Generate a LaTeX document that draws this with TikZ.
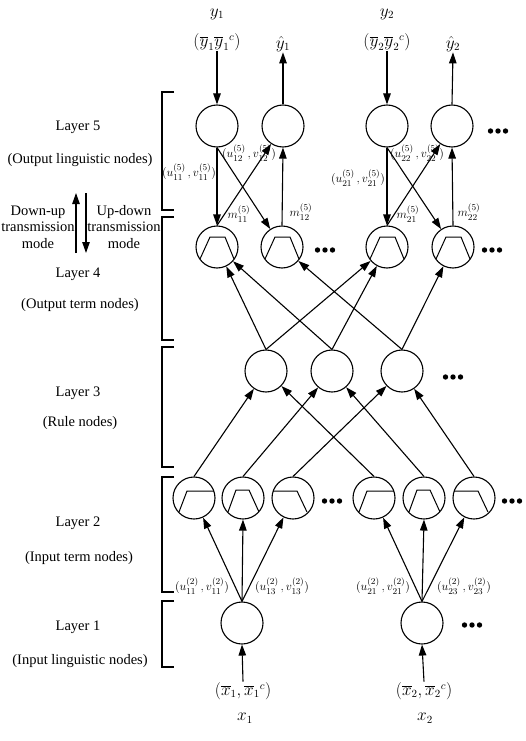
\documentclass[tikz,border=0pt]{standalone}
\usepackage{fontspec}
\setmainfont{Liberation Serif}
\usetikzlibrary{arrows.meta}
\begin{document}
\begin{tikzpicture}[x=1pt,y=-1pt,
  circ/.style={circle,draw,line width=1.1pt,minimum size=42pt,inner sep=0pt},
  trapM/.style={circ,path picture={\draw[line width=1pt] (path picture bounding box.center) ++(-17pt,-12pt) -- ++(10pt,22pt) -- ++(15pt,0pt) -- ++(9pt,-22pt);}},
  trapL/.style={circ,path picture={\draw[line width=1pt] (path picture bounding box.center) ++(-15pt,-14pt) -- ++(8pt,21pt) -- ++(30pt,0pt);}},
  trapC/.style={circ,path picture={\draw[line width=1pt] (path picture bounding box.center) ++(-15pt,-14pt) -- ++(8pt,22pt) -- ++(13pt,0pt) -- ++(10pt,-22pt);}},
  trapR/.style={circ,path picture={\draw[line width=1pt] (path picture bounding box.center) ++(-24pt,7pt) -- ++(28pt,0pt) -- ++(10pt,-21pt);}},
  arr/.style={line width=1.1pt,-{Triangle[length=11pt,width=7.5pt]}},
  lbl/.style={font=\fontsize{14.5}{16.5}\selectfont,align=center,inner sep=0pt},
  sm/.style={font=\fontsize{13}{14}\selectfont,inner sep=0pt},
  io/.style={font=\fontsize{16}{18}\selectfont,inner sep=0.5pt},
  brk/.style={line width=1.1pt},
  dots3/.pic={\foreach \d in {-7.5,0,7.5} \fill (\d,0) circle (2.7);}
]
\useasboundingbox (0,0) rectangle (525,741);

% ---------- nodes ----------
\node[circ] (L51) at (217,126) {};
\node[circ] (L52) at (283,126) {};
\node[circ] (L53) at (387,126) {};
\node[circ] (L54) at (452,126) {};

\node[trapM] (L41) at (217,247) {};
\node[trapM] (L42) at (282,247) {};
\node[trapM] (L43) at (387,247) {};
\node[trapM] (L44) at (453,247) {};

\node[circ] (L31) at (266,371) {};
\node[circ] (L32) at (332,371) {};
\node[circ] (L33) at (402,371) {};

\node[trapL] (L21) at (194,498) {};
\node[trapC] (L22) at (243,498) {};
\node[trapR] (L23) at (293,498) {};
\node[trapL] (L24) at (374,498) {};
\node[trapC] (L25) at (424,498) {};
\node[trapR] (L26) at (474,498) {};

\node[circ] (L11) at (242,623) {};
\node[circ] (L12) at (422,623) {};

% dots
\pic at (498,131) {dots3};
\pic at (325,250) {dots3};
\pic at (492,250) {dots3};
\pic at (453,377) {dots3};
\pic at (332,501) {dots3};
\pic at (512,501) {dots3};
\pic at (472,625) {dots3};

% ---------- top / bottom labels ----------
\node[io] (y1) at (217,14) {$y_1$};
\node[io] (y1b) at (217,42) {$(\overline{y}_1\overline{y}_1{}^{c})$};
\node[io] (yh1) at (283,44) {$\hat{y}_1$};
\node[io] (y2) at (387,14) {$y_2$};
\node[io] (y2b) at (387,42) {$(\overline{y}_2\overline{y}_2{}^{c})$};
\node[io] (yh2) at (453,44) {$\hat{y}_2$};

\draw[arr] (y1b.south) -- (L51.north);
\draw[arr] (L52.north) -- (yh1.south);
\draw[arr] (y2b.south) -- (L53.north);
\draw[arr] (L54.north) -- (yh2.south);

\node[io] (x1b) at (243,691) {$(\overline{x}_1,\overline{x}_1{}^{c})$};
\node[io] (x1) at (245,718) {$x_1$};
\node[io] (x2b) at (424,691) {$(\overline{x}_2,\overline{x}_2{}^{c})$};
\node[io] (x2) at (425,718) {$x_2$};
\draw[arr] (x1b.north) -- (L11.south);
\draw[arr] (x2b.north) -- (L12.south);

% ---------- layer 5 <-> layer 4 ----------
\draw[arr] (L51.south) -- (L41.north);
\draw[arr] (L51.south) -- (L42);
\draw[arr] (L41.north) -- (L52);
\draw[arr] (L42.north) -- (L52.south);
\draw[arr] (L53.south) -- (L43.north);
\draw[arr] (L53.south) -- (L44);
\draw[arr] (L43.north) -- (L54);
\draw[arr] (L44.north) -- (L54.south);

\node[sm] (u11) at (189,172) {$(u_{11}^{(5)}\,,v_{11}^{(5)})$};
\node[sm] (u12) at (249,153) {$(u_{12}^{(5)}\,,v_{12}^{(5)})$};
\node[sm] (u21) at (358,178) {$(u_{21}^{(5)}\,,v_{21}^{(5)})$};
\node[sm] (u22) at (417,153) {$(u_{22}^{(5)}\,,v_{22}^{(5)})$};
\node[sm] (m11) at (239,214) {$m_{11}^{(5)}$};
\node[sm] (m12) at (301,212) {$m_{12}^{(5)}$};
\node[sm] (m21) at (408,214) {$m_{21}^{(5)}$};
\node[sm] (m22) at (469,212) {$m_{22}^{(5)}$};

% ---------- layer 3 -> layer 4 ----------
\draw[arr] (L31.north) -- (L41);
\draw[arr] (L31.north) -- (L43);
\draw[arr] (L32.north) -- (L41);
\draw[arr] (L32.north) -- (L43);
\draw[arr] (L33.north) -- (L42);
\draw[arr] (L33.north) -- (L44);

% ---------- layer 2 -> layer 3 ----------
\draw[arr] (L21.north) -- (L31);
\draw[arr] (L24.north) -- (L31);
\draw[arr] (L22.north) -- (L32);
\draw[arr] (L25.north) -- (L32);
\draw[arr] (L23.north) -- (L33);
\draw[arr] (L26.north) -- (L33);

% ---------- layer 1 -> layer 2 ----------
\draw[arr] (L11.north) -- (L21);
\draw[arr] (L11.north) -- (L22.south);
\draw[arr] (L11.north) -- (L23);
\draw[arr] (L12.north) -- (L24);
\draw[arr] (L12.north) -- (L25.south);
\draw[arr] (L12.north) -- (L26);

\node[sm] (a11) at (202,586) {$(u_{11}^{(2)}\,,v_{11}^{(2)})$};
\node[sm] (a13) at (282,586) {$(u_{13}^{(2)}\,,v_{13}^{(2)})$};
\node[sm] (a21) at (383,586) {$(u_{21}^{(2)}\,,v_{21}^{(2)})$};
\node[sm] (a23) at (464,586) {$(u_{23}^{(2)}\,,v_{23}^{(2)})$};

% ---------- left side ----------
\draw[brk] (174,92) -- (162,92) -- (162,210) -- (174,210);
\draw[brk] (174,217) -- (162,217) -- (162,340) -- (174,340);
\draw[brk] (174,347) -- (162,347) -- (162,467) -- (174,467);
\draw[brk] (174,477) -- (162,477) -- (162,592) -- (174,592);
\draw[brk] (174,601) -- (162,601) -- (162,667) -- (174,667);

\node[lbl] (t5a) at (78,127) {Layer 5};
\node[lbl] (t5b) at (80,160) {(Output linguistic nodes)};
\node[lbl] (du) at (38,227) {Down-up\\transmission\\mode};
\node[lbl] (ud) at (124,227) {Up-down\\transmission\\mode};
\coordinate (ua) at (76,253);
\coordinate (ub) at (76,193);
\coordinate (da) at (86,193);
\coordinate (db) at (86,253);
\draw[arr] (ua) -- (ub);
\draw[arr] (da) -- (db);
\node[lbl] (t4a) at (78,274) {Layer 4};
\node[lbl] (t4b) at (80,305) {(Output term nodes)};
\node[lbl] (t3a) at (78,393) {Layer 3};
\node[lbl] (t3b) at (80,423) {(Rule nodes)};
\node[lbl] (t2a) at (78,523) {Layer 2};
\node[lbl] (t2b) at (79,558) {(Input term nodes)};
\node[lbl] (t1a) at (78,627) {Layer 1};
\node[lbl] (t1b) at (80,661) {(Input linguistic nodes)};
\end{tikzpicture}
\end{document}
